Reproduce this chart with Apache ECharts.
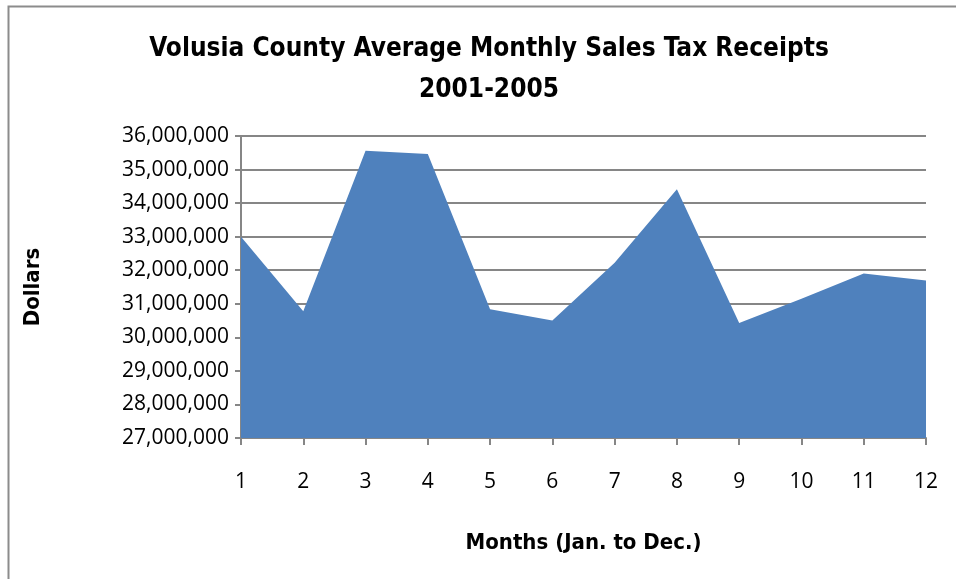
<!DOCTYPE html>
<html><head><meta charset="utf-8">
<script src="https://cdn.jsdelivr.net/npm/echarts@6/dist/echarts.min.js"></script>
<style>html,body{margin:0;padding:0;background:#fff}#c{width:956px;height:579px}</style>
</head><body><div id="c"></div>
<script>
const months = ['1','2','3','4','5','6','7','8','9','10','11','12'];
const receipts = [33000000, 30780000, 35560000, 35460000, 30840000, 30500000, 32220000, 34410000, 30430000, 31150000, 31900000, 31690000];
const titleLines = ['Volusia County Average Monthly Sales Tax Receipts', '2001-2005'];
const yAxisName = 'Dollars';
const xAxisName = 'Months (Jan. to Dec.)';

const F = '"DejaVu Sans Condensed", "DejaVu Sans", sans-serif';
const FT = '"Open Sans", sans-serif';
const chart = echarts.init(document.getElementById('c'), null, {renderer: 'canvas'});
chart.setOption({
  animation: false,
  backgroundColor: '#fff',
  graphic: [{
    type: 'rect', left: 6, top: 4, shape: {x: 0, y: 0, width: 1200, height: 1000},
    style: {fill: 'none', stroke: '#8c8c8c', lineWidth: 2}, silent: true
  }],
  title: {
    text: titleLines.join('\n'), left: 484, top: 24, textAlign: 'center',
    textStyle: {fontFamily: F, fontWeight: 'bold', fontSize: 26, color: '#000', lineHeight: 41}
  },
  grid: {left: 241, top: 136, right: 30, bottom: 141, containLabel: false},
  xAxis: {
    type: 'category', data: months, boundaryGap: false,
    name: xAxisName, nameLocation: 'middle', nameGap: 94,
    nameTextStyle: {fontFamily: F, fontWeight: 'bold', fontSize: 22, color: '#000'},
    axisLine: {lineStyle: {color: '#868686', width: 2}},
    axisTick: {show: true, length: 7, lineStyle: {color: '#868686', width: 2}, alignWithLabel: true},
    axisLabel: {fontFamily: FT, fontSize: 21, color: '#000', margin: 34},
    splitLine: {show: false}
  },
  yAxis: {
    type: 'value', min: 27000000, max: 36000000, interval: 1000000,
    name: yAxisName, nameLocation: 'middle', nameGap: 197, nameRotate: 90,
    nameTextStyle: {fontFamily: F, fontWeight: 'bold', fontSize: 22, color: '#000'},
    axisLine: {show: true, lineStyle: {color: '#868686', width: 2}},
    axisTick: {show: true, length: 6, lineStyle: {color: '#868686', width: 2}},
    axisLabel: {fontFamily: FT, fontSize: 21, color: '#000', margin: 12,
      formatter: v => v.toLocaleString('en-US')},
    splitLine: {show: true, lineStyle: {color: '#868686', width: 2}}
  },
  series: [{
    type: 'line', data: receipts, symbol: 'none',
    lineStyle: {width: 0, color: '#4F81BD'},
    areaStyle: {color: '#4F81BD', opacity: 1, origin: 'start'},
    itemStyle: {color: '#4F81BD'}
  }]
});
</script></body></html>
